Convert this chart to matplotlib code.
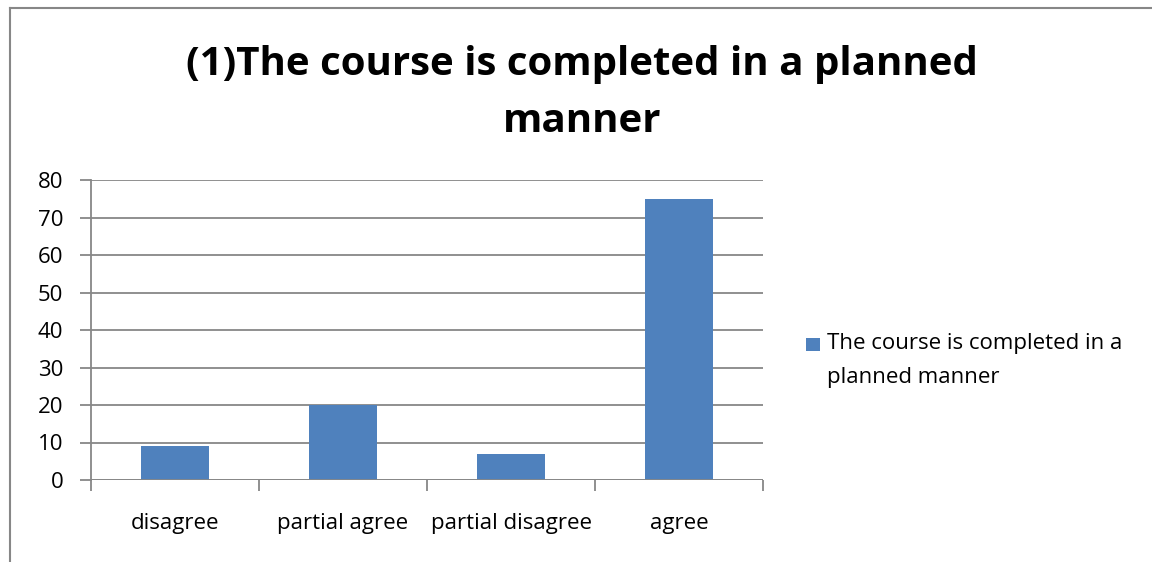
import matplotlib
matplotlib.use("Agg")
import matplotlib.pyplot as plt
from matplotlib.lines import Line2D
from matplotlib.patches import Rectangle

# data
categories = ["disagree", "partial agree", "partial disagree", "agree"]
values = [9, 20, 7, 75]
series_name = "The course is completed in a\nplanned manner"
title = "(1)The course is completed in a planned\nmanner"

plt.rcParams['font.family'] = ['Open Sans', 'DejaVu Sans']
bar_color = "#4F81BD"
grid_color = "#878787"

W, H = 1152, 562
fig = plt.figure(figsize=(W / 100, H / 100), dpi=100)

# outer chart frame (cropped at right and bottom)
fig.add_artist(Line2D([9.5 / W, 9.5 / W], [0, 1 - 8 / H], transform=fig.transFigure,
                      color=grid_color, lw=1.5))
fig.add_artist(Line2D([9.5 / W, 1], [1 - 8 / H, 1 - 8 / H], transform=fig.transFigure,
                      color=grid_color, lw=1.5))

ax = fig.add_axes([91 / W, 1 - 480 / H, (763 - 91) / W, 300 / H])
x = list(range(len(categories)))
ax.bar(x, values, width=0.4, color=bar_color, zorder=3)
ax.set_xlim(-0.5, len(categories) - 0.5)
ax.set_ylim(0, 80)
ax.set_yticks(range(0, 81, 10))
ax.yaxis.grid(True, color=grid_color, lw=1.3, zorder=0)
ax.set_axisbelow(True)

for s in ["top", "right", "bottom"]:
    ax.spines[s].set_visible(False)
ax.spines["left"].set_color(grid_color)
ax.spines["left"].set_linewidth(1.3)
ax.axhline(0, color=grid_color, lw=1.3, zorder=4)

# ticks at category boundaries, labels at centers
ax.set_xticks([i - 0.5 for i in range(len(categories) + 1)])
ax.set_xticklabels([])
ax.set_xticks(x, minor=True)
ax.set_xticklabels(categories, minor=True, fontsize=16)
ax.tick_params(axis="x", which="major", length=8, color=grid_color, width=1.3)
ax.tick_params(axis="x", which="minor", length=0, pad=24)
ax.tick_params(axis="y", length=8, color=grid_color, width=1.3, labelsize=16, pad=12)

fig.text(0.505, 1 - 93 / H, title, ha="center", va="center",
         fontsize=29, fontweight="bold", linespacing=1.6)

# legend: square key next to the first line of a two-line label
fig.add_artist(Rectangle((806 / W, 1 - 351 / H), 14 / W, 13 / H,
                         transform=fig.transFigure, facecolor=bar_color,
                         edgecolor="none"))
fig.text(827 / W, 1 - 333 / H, series_name, ha="left", va="top",
         fontsize=16, linespacing=1.8)

fig.savefig("out.png", dpi=100)
